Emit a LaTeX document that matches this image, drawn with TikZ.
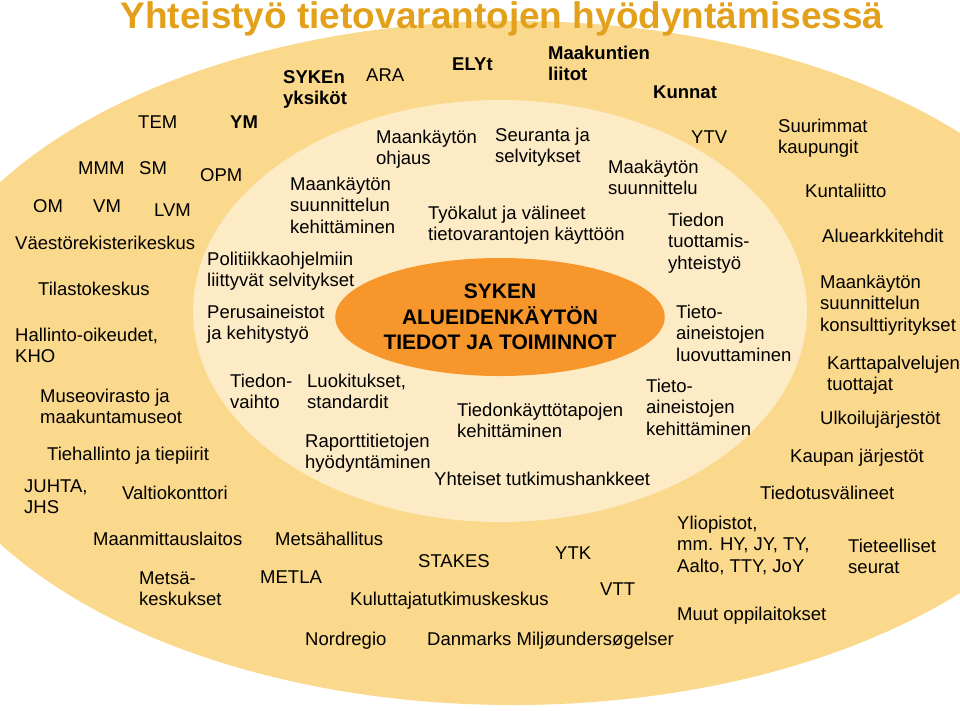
\documentclass[tikz,border=0pt]{standalone}
\usepackage{fontspec}
\setmainfont{Liberation Sans}
\usetikzlibrary{shapes.geometric}
\definecolor{outerc}{HTML}{FAD88C}
\definecolor{innerc}{HTML}{FDEBC6}
\definecolor{corec}{HTML}{F7962B}
\definecolor{titlec}{HTML}{E3A01B}
\tikzset{
  lbl/.style={anchor=base west, inner sep=0pt, align=left, text=black,
    font=\fontsize{18.5}{21.5}\selectfont},
  blbl/.style={lbl, font=\fontsize{18.5}{21.5}\selectfont\bfseries},
}
\begin{document}
\begin{tikzpicture}[x=1pt,y=-1pt]
\path[use as bounding box] (0,0) rectangle (960,710);
\begin{scope}
\clip (0,0) rectangle (960,710);
\fill[outerc] (513,363) ellipse [x radius=604pt, y radius=342pt];
\fill[innerc] (500,311) ellipse [x radius=307pt, y radius=211pt];
\end{scope}
\node[ellipse, fill=corec, inner sep=0pt, minimum width=316pt, minimum height=118pt,
  align=center, font=\fontsize{21}{25.5}\selectfont\bfseries] (core) at (500,317)
  {SYKEN\\ALUEIDENKÄYTÖN\\TIEDOT JA TOIMINNOT};
\node[anchor=base, inner sep=0pt, text=titlec, font=\fontsize{37}{40}\selectfont\bfseries] (title) at (502,28) {Yhteistyö tietovarantojen hyödyntämisessä};
% outer ring
\node[blbl] (syken) at (283,104.5) {SYKEn\\yksiköt};
\node[lbl] (ara) at (366,81) {ARA};
\node[blbl] (ely) at (452,70) {ELYt};
\node[blbl] (maak) at (548,80.5) {Maakuntien\\liitot};
\node[blbl] (kunnat) at (653,98) {Kunnat};
\node[lbl] (tem) at (138,128) {TEM};
\node[blbl] (ym) at (230,128) {YM};
\node[lbl] (mmm) at (78,174) {MMM};
\node[lbl] (sm) at (139,174) {SM};
\node[lbl] (opm) at (200,181) {OPM};
\node[lbl] (om) at (33,212) {OM};
\node[lbl] (vm) at (93,212) {VM};
\node[lbl] (lvm) at (154,216) {LVM};
\node[lbl] (vrk) at (15,249) {Väestörekisterikeskus};
\node[lbl] (tilasto) at (38,295) {Tilastokeskus};
\node[lbl] (hallinto) at (15,362.5) {Hallinto-oikeudet,\\KHO};
\node[lbl] (museo) at (40,423.5) {Museovirasto ja\\maakuntamuseot};
\node[lbl] (tiehall) at (47,460) {Tiehallinto ja tiepiirit};
\node[lbl] (juhta) at (24,513.5) {JUHTA,\\JHS};
\node[lbl] (valtio) at (122,499) {Valtiokonttori};
\node[lbl] (mml) at (93,545) {Maanmittauslaitos};
\node[lbl] (metsah) at (275,545) {Metsähallitus};
\node[lbl] (metsak) at (139,605.5) {Metsä-\\keskukset};
\node[lbl] (metla) at (260,583) {METLA};
\node[lbl] (stakes) at (418,567) {STAKES};
\node[lbl] (ytk) at (555,559) {YTK};
\node[lbl] (vtt) at (600,595) {VTT};
\node[lbl] (kuluttaja) at (350,605) {Kuluttajatutkimuskeskus};
\node[lbl] (nordregio) at (305,645) {Nordregio};
\node[lbl] (danmarks) at (427,645) {Danmarks Miljøundersøgelser};
\node[lbl] (yliop) at (677,572) {Yliopistot,\\mm. HY, JY, TY,\\Aalto, TTY, JoY};
\node[lbl] (tiet) at (848,573.5) {Tieteelliset\\seurat};
\node[lbl] (muut) at (677,620) {Muut oppilaitokset};
\node[lbl] (tiedotus) at (760,499) {Tiedotusvälineet};
\node[lbl] (kaupan) at (790,462) {Kaupan järjestöt};
\node[lbl] (ulkoilu) at (820,424) {Ulkoilujärjestöt};
\node[lbl] (kartta) at (827,390.5) {Karttapalvelujen\\tuottajat};
\node[lbl] (konsult) at (820,331) {Maankäytön\\suunnittelun\\konsulttiyritykset};
\node[lbl] (alue) at (822,242) {Aluearkkitehdit};
\node[lbl] (kuntal) at (805,197) {Kuntaliitto};
\node[lbl] (suur) at (778,153.5) {Suurimmat\\kaupungit};
\node[lbl] (ytv) at (691,143) {YTV};
% inner ring
\node[lbl] (ohjaus) at (376,164.5) {Maankäytön\\ohjaus};
\node[lbl] (seuranta) at (495,162.5) {Seuranta ja\\selvitykset};
\node[lbl] (suunkeh) at (290,233) {Maankäytön\\suunnittelun\\kehittäminen};
\node[lbl] (maakayt) at (608,194.5) {Maakäytön\\suunnittelu};
\node[lbl] (tyokalut) at (428,240.5) {Työkalut ja välineet\\tietovarantojen käyttöön};
\node[lbl] (tuott) at (668,269) {Tiedon\\tuottamis-\\yhteistyö};
\node[lbl] (polit) at (207,286.5) {Politiikkaohjelmiin\\liittyvät selvitykset};
\node[lbl] (perus) at (207,339.5) {Perusaineistot\\ja kehitystyö};
\node[lbl] (luov) at (676,361) {Tieto-\\aineistojen\\luovuttaminen};
\node[lbl] (vaihto) at (230,408.5) {Tiedon-\\vaihto};
\node[lbl] (luokit) at (307,408.5) {Luokitukset,\\standardit};
\node[lbl] (aikeh) at (646,435) {Tieto-\\aineistojen\\kehittäminen};
\node[lbl] (kaytto) at (457,437.5) {Tiedonkäyttötapojen\\kehittäminen};
\node[lbl] (raportti) at (305,468.5) {Raporttitietojen\\hyödyntäminen};
\node[lbl] (yhteiset) at (434,485) {Yhteiset tutkimushankkeet};
\end{tikzpicture}
\end{document}
